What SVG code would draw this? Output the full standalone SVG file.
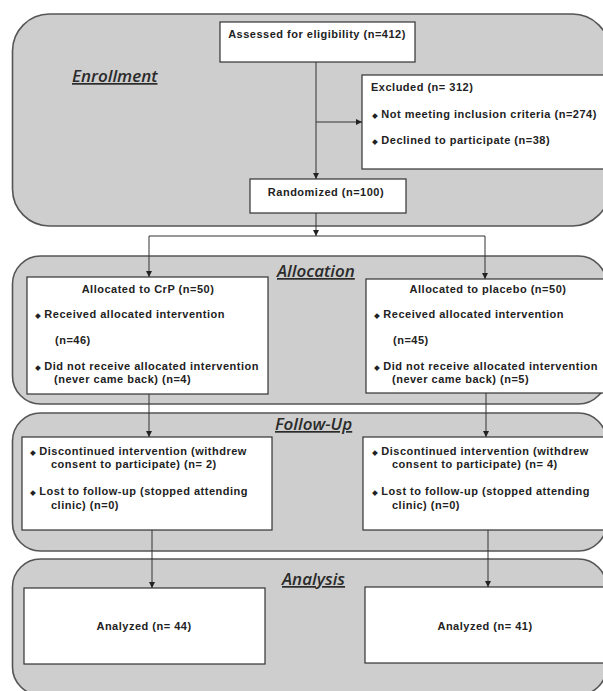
<svg xmlns="http://www.w3.org/2000/svg" width="603" height="691" viewBox="0 0 603 691">
<defs>
<marker id="ah" markerWidth="7" markerHeight="7" refX="6" refY="3.5" orient="auto" markerUnits="userSpaceOnUse">
<path d="M0,0.5 L6,3.5 L0,6.5 Z" fill="#222"/>
</marker>
<style>
.panel{fill:#cecece;stroke:#555;stroke-width:1.6}
.box{fill:#fff;stroke:#333;stroke-width:1.2}
.t{font-family:"Liberation Sans",Arial,sans-serif;font-weight:bold;font-size:11px;letter-spacing:0.5px;fill:#222}
.c{text-anchor:middle}
.b{font-family:"DejaVu Sans",sans-serif;font-size:7.5px;letter-spacing:0}
.lab{font-family:"Open Sans",sans-serif;font-style:italic;font-weight:600;font-size:17px;fill:#2b2b2b;text-decoration:underline}
.conn{fill:none;stroke:#333;stroke-width:1}
</style>
</defs>
<rect width="603" height="691" fill="#fff"/>
<g id="panels">
<rect id="enrollment-panel" class="panel" x="12.5" y="14" width="597" height="212" rx="37" ry="37"/>
<rect id="allocation-panel" class="panel" x="12.5" y="256" width="594" height="148" rx="28" ry="28"/>
<rect id="followup-panel" class="panel" x="12.5" y="413" width="594" height="138" rx="28" ry="28"/>
<rect id="analysis-panel" class="panel" x="12.5" y="559" width="594" height="136" rx="28" ry="28"/>
<text class="lab" x="72" y="82">Enrollment</text>
<text class="lab" x="277" y="277">Allocation</text>
<text class="lab" x="275" y="430">Follow-Up</text>
<text class="lab" x="282" y="585">Analysis</text>
</g>
<g id="connectors">
<line class="conn" x1="316" y1="62" x2="316" y2="179" marker-end="url(#ah)"/>
<line class="conn" x1="316" y1="122" x2="362" y2="122" marker-end="url(#ah)"/>
<line class="conn" x1="316" y1="213" x2="316" y2="236" marker-end="url(#ah)"/>
<line class="conn" x1="149" y1="236" x2="485" y2="236"/>
<line class="conn" x1="149" y1="236" x2="149" y2="277" marker-end="url(#ah)"/>
<line class="conn" x1="485" y1="236" x2="485" y2="279" marker-end="url(#ah)"/>
<line class="conn" x1="149" y1="394" x2="149" y2="437" marker-end="url(#ah)"/>
<line class="conn" x1="486" y1="393" x2="486" y2="437" marker-end="url(#ah)"/>
<line class="conn" x1="152" y1="530" x2="152" y2="588" marker-end="url(#ah)"/>
<line class="conn" x1="488" y1="530" x2="488" y2="587" marker-end="url(#ah)"/>
</g>
<g id="assessed">
<rect class="box" x="220" y="22" width="195" height="40"/>
<text class="t c" x="317" y="38">Assessed for eligibility (n=412)</text>
</g>
<g id="excluded">
<rect class="box" x="362" y="75" width="250" height="94"/>
<text class="t" x="371" y="91">Excluded (n= 312)</text>
<text class="t" x="372" y="118"><tspan class="b">◆</tspan> Not meeting inclusion criteria (n=274)</text>
<text class="t" x="372" y="144"><tspan class="b">◆</tspan> Declined to participate (n=38)</text>
</g>
<g id="randomized">
<rect class="box" x="250" y="179" width="156" height="34"/>
<text class="t c" x="326" y="196">Randomized (n=100)</text>
</g>
<g id="alloc-crp">
<rect class="box" x="27" y="277" width="241" height="117"/>
<text class="t c" x="148" y="293">Allocated to CrP (n=50)</text>
<text class="t" x="35" y="318"><tspan class="b">◆</tspan> Received allocated intervention</text>
<text class="t" x="55" y="344">(n=46)</text>
<text class="t" x="35" y="370"><tspan class="b">◆</tspan> Did not receive allocated intervention</text>
<text class="t" x="54" y="383">(never came back) (n=4)</text>
</g>
<g id="alloc-placebo">
<rect class="box" x="366" y="279" width="246" height="114"/>
<text class="t c" x="488" y="293">Allocated to placebo (n=50)</text>
<text class="t" x="374" y="318"><tspan class="b">◆</tspan> Received allocated intervention</text>
<text class="t" x="393" y="344">(n=45)</text>
<text class="t" x="374" y="370"><tspan class="b">◆</tspan> Did not receive allocated intervention</text>
<text class="t" x="392" y="383">(never came back) (n=5)</text>
</g>
<g id="followup-crp">
<rect class="box" x="22" y="437" width="250" height="93"/>
<text class="t" x="30" y="455"><tspan class="b">◆</tspan> Discontinued intervention (withdrew</text>
<text class="t" x="51" y="468">consent to participate) (n= 2)</text>
<text class="t" x="30" y="495"><tspan class="b">◆</tspan> Lost to follow-up (stopped attending</text>
<text class="t" x="51" y="509">clinic) (n=0)</text>
</g>
<g id="followup-placebo">
<rect class="box" x="363" y="437" width="249" height="93"/>
<text class="t" x="372" y="455"><tspan class="b">◆</tspan> Discontinued intervention (withdrew</text>
<text class="t" x="392" y="468">consent to participate) (n= 4)</text>
<text class="t" x="372" y="495"><tspan class="b">◆</tspan> Lost to follow-up (stopped attending</text>
<text class="t" x="392" y="509">clinic) (n=0)</text>
</g>
<g id="analysis-crp">
<rect class="box" x="24" y="588" width="241" height="76"/>
<text class="t c" x="144" y="630">Analyzed (n= 44)</text>
</g>
<g id="analysis-placebo">
<rect class="box" x="365" y="587" width="247" height="76"/>
<text class="t c" x="485" y="630">Analyzed (n= 41)</text>
</g>
</svg>
